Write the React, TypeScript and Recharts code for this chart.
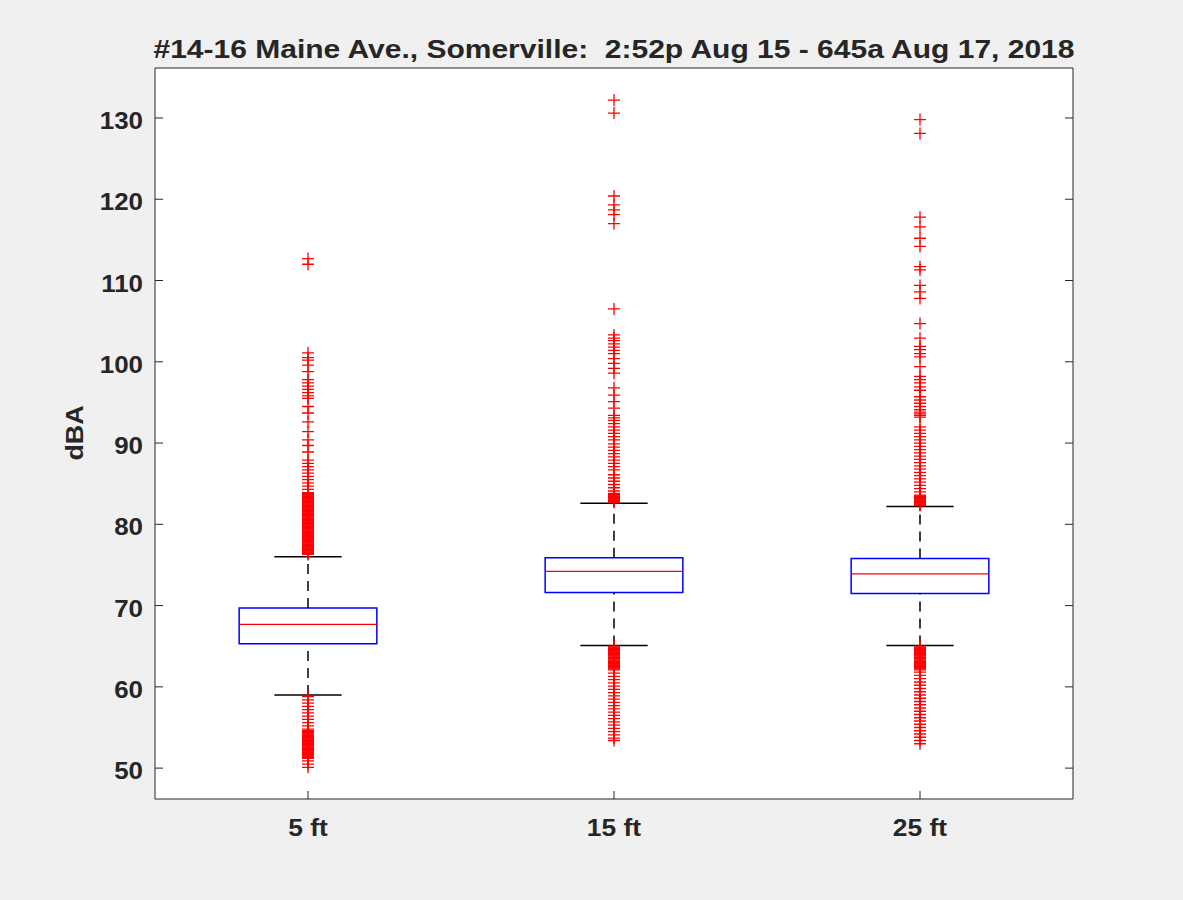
import { CartesianGrid, ComposedChart, ReferenceArea, ReferenceLine, Scatter, XAxis, YAxis } from "recharts";

const title = "#14-16 Maine Ave., Somerville:  2:52p Aug 15 - 645a Aug 17, 2018";
const yLabel = "dBA";

const categories = ["5 ft", "15 ft", "25 ft"];
const q1 = [65.3, 71.6, 71.5];
const medians = [67.7, 74.2, 73.9];
const q3 = [69.7, 75.9, 75.8];
const whiskerLow = [59.0, 65.1, 65.1];
const whiskerHigh = [76.0, 82.6, 82.2];
const yTicks = [50, 60, 70, 80, 90, 100, 110, 120, 130];

const outliers5ft = [
    112.7, 112.0, 101.1, 100.5, 100.2, 99.6, 98.8, 97.8, 97.4, 97.0, 96.6, 96.2, 95.8, 95.5, 94.5, 93.7, 92.6, 91.4, 90.4, 89.7, 88.9,
    87.9, 87.5, 87.1, 86.7, 86.3, 85.9, 85.5, 85.1, 84.7, 84.3, 83.9,
    83.8, 83.7, 83.6, 83.5, 83.4, 83.3, 83.2, 83.1, 83.0, 82.9, 82.8, 82.7, 82.6, 82.5, 82.4, 82.3, 82.2, 82.1, 82.0,
    81.9, 81.8, 81.7, 81.6, 81.5, 81.4, 81.3, 81.2, 81.1, 81.0, 80.9, 80.8, 80.7, 80.6, 80.5, 80.4, 80.3, 80.2, 80.1, 80.0,
    79.9, 79.8, 79.7, 79.6, 79.5, 79.4, 79.3, 79.2, 79.1, 79.0, 78.9, 78.8, 78.7, 78.6, 78.5, 78.4, 78.3, 78.2, 78.1, 78.0,
    77.9, 77.8, 77.7, 77.6, 77.5, 77.4, 77.3, 77.2, 77.1, 77.0, 76.9, 76.8, 76.7, 76.6, 76.5, 76.4, 76.3,
    58.8, 58.4, 58.0, 57.6, 57.2, 56.8, 56.4, 56.0, 55.6, 55.2, 54.8,
    54.6, 54.5, 54.4, 54.3, 54.2, 54.1, 54.0, 53.9, 53.8, 53.7, 53.6, 53.5, 53.4, 53.3, 53.2, 53.1, 53.0,
    52.9, 52.8, 52.7, 52.6, 52.5, 52.4, 52.3, 52.2, 52.1, 52.0, 51.9, 51.8, 51.7, 51.6, 51.5, 51.4, 51.3, 51.2,
    50.9, 50.5, 50.1,
];
const outliers15ft = [
    132.2, 130.6, 120.4, 119.3, 118.7, 118.1, 117.0, 106.5, 103.3, 102.9, 102.6, 102.2, 101.8, 101.4, 101.0, 100.4,
    99.8, 99.2, 98.6, 96.8, 95.9, 95.1, 94.3, 93.4, 93.1, 92.8, 92.4, 92.0, 91.6, 91.2, 90.8, 90.4,
    89.9, 89.5, 89.1, 88.7, 88.3, 87.9, 87.5, 87.1, 86.7, 86.1, 85.7, 85.3, 84.9, 84.5, 84.1,
    83.8, 83.7, 83.6, 83.5, 83.4, 83.3, 83.2, 83.1, 83.0, 82.9, 82.8, 82.7,
    65.0, 64.9, 64.8, 64.7, 64.6, 64.5, 64.4, 64.3, 64.2, 64.1, 64.0, 63.9, 63.8, 63.7, 63.6, 63.5,
    63.4, 63.3, 63.2, 63.1, 63.0, 62.9, 62.8, 62.7, 62.6, 62.5, 62.4, 62.3, 62.2, 62.1,
    61.7, 61.3, 60.9, 60.5, 60.1, 59.7, 59.3, 58.9, 58.5, 58.1, 57.7, 57.3, 56.9, 56.5, 56.1, 55.7, 55.3, 54.9, 54.5, 54.1, 53.7, 53.4,
];
const outliers25ft = [
    129.8, 128.1, 117.8, 116.6, 115.2, 114.2, 111.7, 111.3, 109.4, 108.6, 107.8, 104.7, 102.9, 101.9, 101.5, 101.0, 100.6,
    99.4, 98.2, 97.8, 97.4, 96.9, 96.5, 95.7, 95.3, 94.9, 94.5, 94.1, 93.8, 93.6, 93.4, 93.2, 92.0, 91.6, 91.2, 90.8, 90.4,
    90.0, 89.6, 89.2, 88.8, 88.4, 88.0, 87.6, 87.2, 86.8, 86.4, 86.0, 85.6, 85.2, 84.8, 84.4, 84.0,
    83.6, 83.5, 83.4, 83.3, 83.2, 83.1, 83.0, 82.9, 82.8, 82.7, 82.6, 82.5, 82.4, 82.3,
    65.0, 64.9, 64.8, 64.7, 64.6, 64.5, 64.4, 64.3, 64.2, 64.1, 64.0, 63.9, 63.8, 63.7, 63.6, 63.5,
    63.4, 63.3, 63.2, 63.1, 63.0, 62.9, 62.8, 62.7, 62.6, 62.5, 62.4, 62.3, 62.2, 62.1,
    61.8, 61.4, 61.0, 60.6, 60.2, 59.8, 59.4, 59.0, 58.6, 58.2, 57.8, 57.4, 57.0, 56.6, 56.2, 55.8, 55.4, 55.0, 54.6, 54.2, 53.8, 53.4, 53.0,
];

const outliers = [outliers5ft, outliers15ft, outliers25ft];

const BOX_HALF = 0.225;
const CAP_HALF = 0.11;
const AXIS_COLOR = "#262626";
const FONT = "'Liberation Sans', Arial, Helvetica, sans-serif";

const PlusMarker = (props: any) => {
    const { cx, cy } = props;
    if (cx == null || cy == null) return <g />;
    return (
        <path
            d={`M${cx - 6},${cy}h12M${cx},${cy - 6}v12`}
            stroke="#ff0000"
            strokeWidth={1.3}
            fill="none"
        />
    );
};

const NoTick = () => <g />;

// MATLAB's Helvetica comes out a little wider than Liberation Sans
const BottomTick = (props: any) => {
    const { x, y, payload } = props;
    return (
        <text transform={`translate(${x},${y + 17}) scale(1.1,1)`} textAnchor="middle"
              fontSize={24} fontWeight="bold" fill={AXIS_COLOR} fontFamily={FONT}>
            {categories[payload.value - 1]}
        </text>
    );
};

const LeftTick = (props: any) => {
    const { x, y, payload } = props;
    return (
        <text transform={`translate(${x},${y + 11}) scale(1.08,1)`} textAnchor="end"
              fontSize={24} fontWeight="bold" fill={AXIS_COLOR} fontFamily={FONT}>
            {payload.value}
        </text>
    );
};

const App = () => {
    return (
        <div style={{ position: "absolute", left: 0, top: 0, width: 1183, height: 900, background: "#f0f0f0", fontFamily: FONT }}>
            <ComposedChart width={1183} height={900} margin={{ top: 67, right: 109, bottom: 61, left: 95 }}>
                <CartesianGrid xAxisId="b" yAxisId="l" fill="#ffffff" horizontal={false} vertical={false} />
                <XAxis xAxisId="b" type="number" dataKey="x" domain={[0.5, 3.5]} ticks={[1, 2, 3]}
                       allowDataOverflow height={40}
                       tick={BottomTick} tickSize={-8} tickMargin={28}
                       axisLine={{ stroke: AXIS_COLOR }} tickLine={{ stroke: AXIS_COLOR }} />
                <XAxis xAxisId="t" orientation="top" type="number" domain={[0.5, 3.5]} ticks={[1, 2, 3]}
                       allowDataOverflow height={1} tick={NoTick} tickSize={-8}
                       axisLine={{ stroke: AXIS_COLOR }} tickLine={{ stroke: AXIS_COLOR }} />
                <YAxis yAxisId="l" type="number" domain={[46.2, 136.15]} ticks={yTicks} allowDataOverflow
                       width={60} tick={LeftTick} tickSize={-8} tickMargin={20}
                       axisLine={{ stroke: AXIS_COLOR }} tickLine={{ stroke: AXIS_COLOR }} />
                <YAxis yAxisId="r" orientation="right" type="number" domain={[46.2, 136.15]} ticks={yTicks}
                       allowDataOverflow width={1} tick={NoTick} tickSize={-8}
                       axisLine={{ stroke: AXIS_COLOR }} tickLine={{ stroke: AXIS_COLOR }} />

                {categories.map((c, i) => (
                    <ReferenceLine key={`wu-${c}`} xAxisId="b" yAxisId="l"
                                   segment={[{ x: i + 1, y: q3[i] }, { x: i + 1, y: whiskerHigh[i] }]}
                                   stroke="#000000" strokeWidth={1.5} strokeDasharray="10 7" />
                ))}
                {categories.map((c, i) => (
                    <ReferenceLine key={`wl-${c}`} xAxisId="b" yAxisId="l"
                                   segment={[{ x: i + 1, y: whiskerLow[i] }, { x: i + 1, y: q1[i] }]}
                                   stroke="#000000" strokeWidth={1.5} strokeDasharray="10 7" />
                ))}

                {outliers.map((vals, i) => (
                    <Scatter key={`out-${categories[i]}`} xAxisId="b" yAxisId="l"
                             data={vals.map(y => ({ x: i + 1, y }))} dataKey="y"
                             shape={PlusMarker} isAnimationActive={false} />
                ))}

                {categories.map((c, i) => (
                    <ReferenceLine key={`cu-${c}`} xAxisId="b" yAxisId="l"
                                   segment={[{ x: i + 1 - CAP_HALF, y: whiskerHigh[i] }, { x: i + 1 + CAP_HALF, y: whiskerHigh[i] }]}
                                   stroke="#000000" strokeWidth={1.5} />
                ))}
                {categories.map((c, i) => (
                    <ReferenceLine key={`cl-${c}`} xAxisId="b" yAxisId="l"
                                   segment={[{ x: i + 1 - CAP_HALF, y: whiskerLow[i] }, { x: i + 1 + CAP_HALF, y: whiskerLow[i] }]}
                                   stroke="#000000" strokeWidth={1.5} />
                ))}
                {categories.map((c, i) => (
                    <ReferenceArea key={`box-${c}`} xAxisId="b" yAxisId="l"
                                   x1={i + 1 - BOX_HALF} x2={i + 1 + BOX_HALF} y1={q1[i]} y2={q3[i]}
                                   fill="none" fillOpacity={0} stroke="#0000ff" strokeWidth={1.5} />
                ))}
                {categories.map((c, i) => (
                    <ReferenceLine key={`med-${c}`} xAxisId="b" yAxisId="l"
                                   segment={[{ x: i + 1 - BOX_HALF, y: medians[i] }, { x: i + 1 + BOX_HALF, y: medians[i] }]}
                                   stroke="#ff0000" strokeWidth={1.3} />
                ))}
            </ComposedChart>

            <div style={{
                position: "absolute", left: 155, width: 918, top: 36, textAlign: "center",
                fontSize: 25, fontWeight: "bold", color: AXIS_COLOR, whiteSpace: "pre", lineHeight: "26px",
                transform: "scaleX(1.2)",
            }}>
                {title}
            </div>
            <div style={{
                position: "absolute", left: 75, top: 433, transform: "translate(-50%, -50%) rotate(-90deg) scaleX(1.12)",
                fontSize: 24, fontWeight: "bold", color: AXIS_COLOR, lineHeight: "26px",
            }}>
                {yLabel}
            </div>
        </div>
    );
};

export default App;
